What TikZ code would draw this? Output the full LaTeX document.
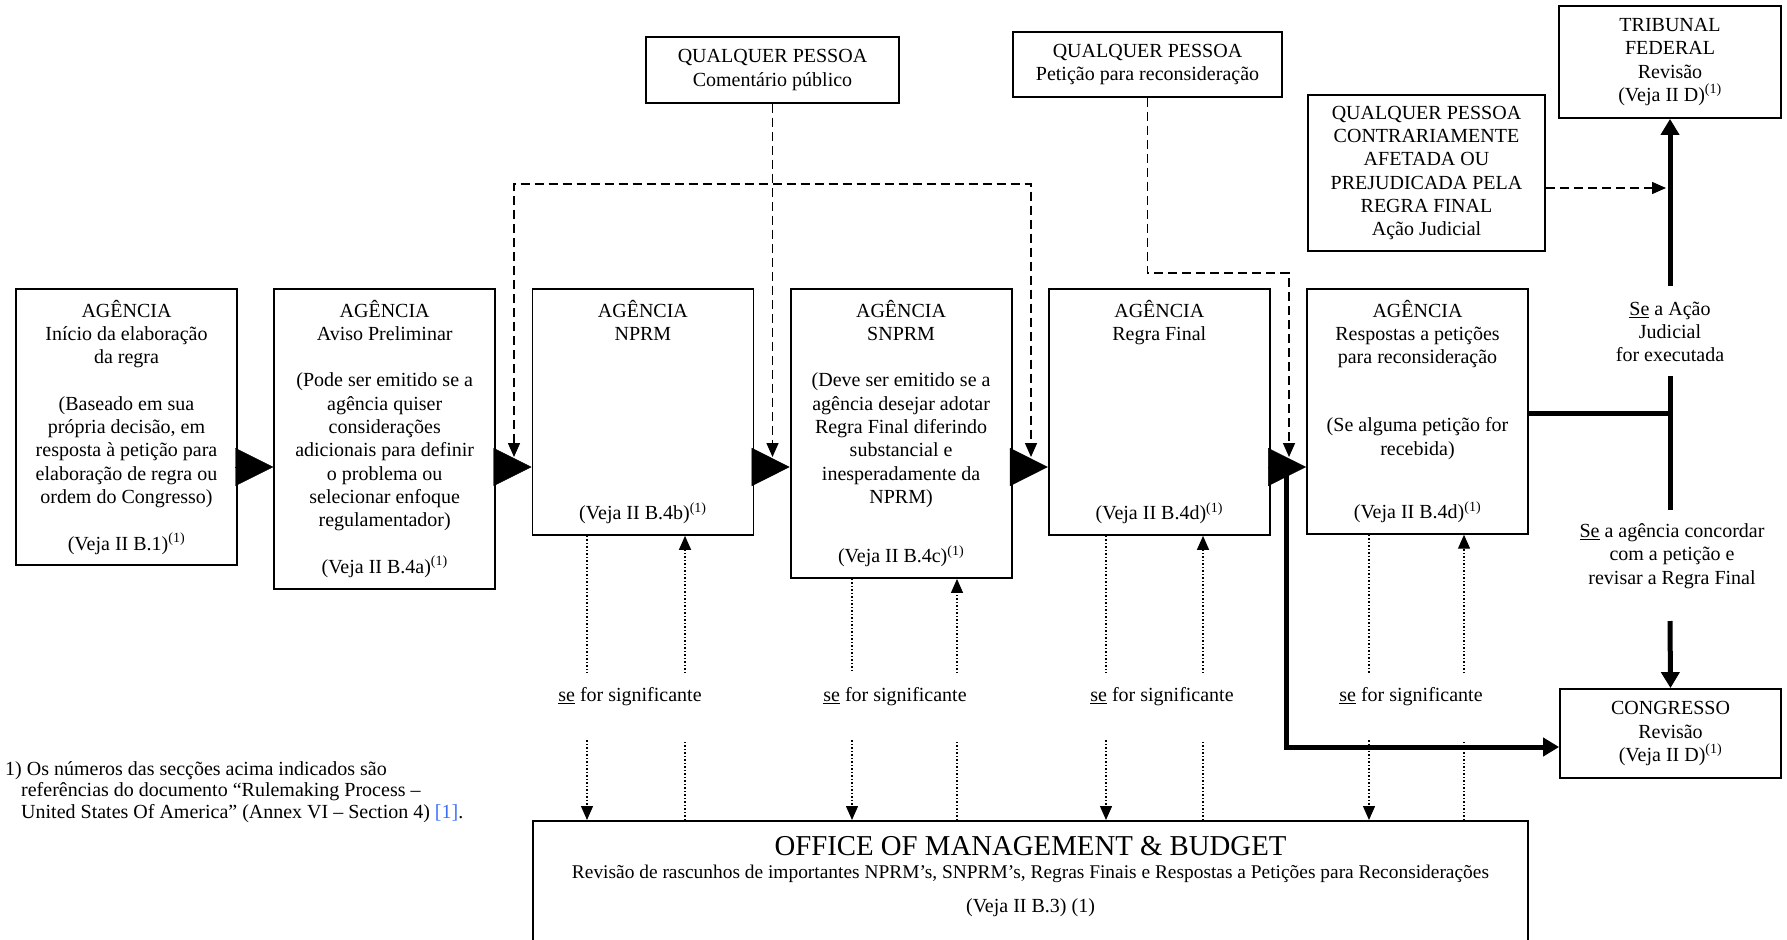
\documentclass[tikz,border=0pt]{standalone}
\usepackage{fontspec}
\setmainfont{Liberation Serif}
\usetikzlibrary{arrows.meta}

\newcommand{\diagfont}{\fontsize{20}{23.3}\selectfont}
\definecolor{reflink}{RGB}{60,110,250}

\tikzset{
  agbox/.style={draw, line width=1.8pt, minimum width=221pt, align=center, inner ysep=11pt, anchor=north},
  infobox/.style={draw, line width=1.8pt, align=center},
  txt/.style={align=center, inner sep=2pt},
  bigtri/.style={line width=0.4pt, -{Triangle[length=38pt,width=38pt]}},
  dashline/.style={line width=1.5pt, dash pattern=on 9pt off 5pt},
  dotline/.style={line width=1.3pt, dash pattern=on 1.5pt off 2pt},
  thickline/.style={line width=5pt},
  smalltip/.style={-{Triangle[length=14pt,width=12pt]}},
  smalltips/.style={{Triangle[length=14pt,width=12pt]}-{Triangle[length=14pt,width=12pt]}},
  fattip/.style={-{Triangle[length=16pt,width=18pt]}}
}

\begin{document}
\begin{tikzpicture}[x=1pt, y=-1pt, font=\diagfont]
\useasboundingbox (0,0) rectangle (1787,939);
\clip (0,0) rectangle (1787,939);

% boxes at the top
\node[infobox, minimum width=253pt, minimum height=66pt] (qp1) at (772.5,70) {QUALQUER PESSOA\\Comentário público};
\node[infobox, minimum width=269pt, minimum height=65pt] (qp2) at (1147.5,64.5) {QUALQUER PESSOA\\Petição para reconsideração};
\node[infobox, minimum width=222pt, minimum height=112pt] (trib) at (1670,62) {TRIBUNAL\\FEDERAL\\Revisão\\(Veja II D)\textsuperscript{(1)}};
\node[infobox, minimum width=237pt, minimum height=156pt] (qp3) at (1426.5,173) {QUALQUER PESSOA\\CONTRARIAMENTE\\AFETADA OU\\PREJUDICADA PELA\\REGRA FINAL\\Ação Judicial};

% agency row
\node[agbox] (inicio) at (126.5,288) {AGÊNCIA\\Início da elaboração\\da regra\\[23.3pt](Baseado em sua\\própria decisão, em\\resposta à petição para\\elaboração de regra ou\\ordem do Congresso)\\[23.3pt](Veja II B.1)\textsuperscript{(1)}};
\node[agbox] (aviso) at (384.7,288) {AGÊNCIA\\Aviso Preliminar\\[23.3pt](Pode ser emitido se a\\agência quiser\\considerações\\adicionais para definir\\o problema ou\\selecionar enfoque\\regulamentador)\\[23.3pt](Veja II B.4a)\textsuperscript{(1)}};
\node[agbox] (nprm) at (642.9,288) {AGÊNCIA\\NPRM\\[156pt](Veja II B.4b)\textsuperscript{(1)}};
\node[agbox] (snprm) at (901.1,288) {AGÊNCIA\\SNPRM\\[23.3pt](Deve ser emitido se a\\agência desejar adotar\\Regra Final diferindo\\substancial e\\inesperadamente da\\NPRM)\\[36pt](Veja II B.4c)\textsuperscript{(1)}};
\node[agbox] (final) at (1159.3,288) {AGÊNCIA\\Regra Final\\[156pt](Veja II B.4d)\textsuperscript{(1)}};
\node[agbox] (resp) at (1417.5,288) {AGÊNCIA\\Respostas a petições\\para reconsideração\\[45pt](Se alguma petição for\\recebida)\\[40pt](Veja II B.4d)\textsuperscript{(1)}};

\node[infobox, minimum width=221pt, minimum height=89pt] (congresso) at (1670.5,733.5) {CONGRESSO\\Revisão\\(Veja II D)\textsuperscript{(1)}};

% office of management
\node[draw, line width=1.8pt, minimum width=995pt, minimum height=160pt, anchor=north] (omb) at (1030.5,820) {};
\node (ombtitle) at (1030.5,846) {\fontsize{28.8}{32}\selectfont OFFICE OF MANAGEMENT \& BUDGET};
\node (ombsub) at (1030.5,874) {\fontsize{19.4}{23}\selectfont Revisão de rascunhos de importantes NPRM’s, SNPRM’s, Regras Finais e Respostas a Petições para Reconsiderações};
\node (ombref) at (1030.5,908) {(Veja II B.3) (1)};

% labels
\node[txt] (acao) at (1670,332) {\underline{Se} a Ação\\Judicial\\for executada};
\node[txt] (concorda) at (1672,556) {\underline{Se} a agência concordar\\com a petição e\\revisar a Regra Final};
\node (sig3) at (630,697) {\underline{se} for significante};
\node (sig4) at (895,697) {\underline{se} for significante};
\node (sig5) at (1162,697) {\underline{se} for significante};
\node (sig6) at (1411,697) {\underline{se} for significante};
\node[anchor=north west, align=left, inner sep=0pt, font=\fontsize{20}{21.6}\selectfont] (nota) at (5,761) {1) Os números das secções acima indicados são\\\hspace*{16pt}referências do documento “Rulemaking Process –\\\hspace*{16pt}United States Of America” (Annex VI – Section 4) \textcolor{reflink}{[1]}.};

% main flow
\coordinate (row) at (0,467);
\draw[bigtri] (inicio.east |- row) -- (aviso.west |- row);
\draw[bigtri] (aviso.east |- row) -- (nprm.west |- row);
\draw[bigtri] (nprm.east |- row) -- (snprm.west |- row);
\draw[bigtri] (snprm.east |- row) -- (final.west |- row);
\draw[bigtri] (final.east |- row) -- (resp.west |- row);

% comments and petitions
\coordinate (tipy) at (0,457);
\coordinate (dl) at (514,184);
\coordinate (dr) at (1031,184);
\coordinate (qq) at (1289,273);
\coordinate (jx) at (1666,188);
\draw[dashline, smalltip] (qp1.south) -- (qp1.south |- tipy);
\draw[dashline, smalltips] (dl |- tipy) -- (dl) -- (dr) -- (dr |- tipy);
\draw[dashline, smalltip] (qp2.south) |- (qq) -- (qq |- tipy);
\draw[dashline, smalltip] (qp3.east |- jx) -- (jx);

% court and congress
\coordinate (jtop) at (1670,286);
\coordinate (jup) at (1670,376);
\coordinate (jlow) at (1670,510);
\coordinate (tee) at (1670,413);
\coordinate (jbot) at (1670,621);
\coordinate (cs) at (1286,467);
\coordinate (ccor) at (1286,747);
\draw[thickline, fattip] (jtop) -- (trib.south);
\draw[thickline] (jup) -- (jlow);
\draw[thickline] (resp.east |- tee) -- (tee);
\draw[thickline, fattip] (jbot) -- (congresso.north);
\draw[thickline, fattip] (cs) -- (ccor) -- (congresso.west |- ccor);

% OMB review
\coordinate (ya) at (0,673);
\coordinate (yb) at (0,740);
\coordinate (l3) at (587,0);
\coordinate (r3) at (685,0);
\coordinate (l4) at (852,0);
\coordinate (r4) at (957,0);
\coordinate (l5) at (1106,0);
\coordinate (r5) at (1203,0);
\coordinate (l6) at (1369,0);
\coordinate (r6) at (1464,0);

\draw[dotline] (nprm.south -| l3) -- (l3 |- ya);
\draw[dotline, smalltip] (l3 |- yb) -- (omb.north -| l3);
\draw[dotline] (omb.north -| r3) -- (r3 |- yb);
\draw[dotline, smalltip] (r3 |- ya) -- (nprm.south -| r3);

\draw[dotline] (snprm.south -| l4) -- (l4 |- ya);
\draw[dotline, smalltip] (l4 |- yb) -- (omb.north -| l4);
\draw[dotline] (omb.north -| r4) -- (r4 |- yb);
\draw[dotline, smalltip] (r4 |- ya) -- (snprm.south -| r4);

\draw[dotline] (final.south -| l5) -- (l5 |- ya);
\draw[dotline, smalltip] (l5 |- yb) -- (omb.north -| l5);
\draw[dotline] (omb.north -| r5) -- (r5 |- yb);
\draw[dotline, smalltip] (r5 |- ya) -- (final.south -| r5);

\draw[dotline] (resp.south -| l6) -- (l6 |- ya);
\draw[dotline, smalltip] (l6 |- yb) -- (omb.north -| l6);
\draw[dotline] (omb.north -| r6) -- (r6 |- yb);
\draw[dotline, smalltip] (r6 |- ya) -- (resp.south -| r6);

\end{tikzpicture}
\end{document}
